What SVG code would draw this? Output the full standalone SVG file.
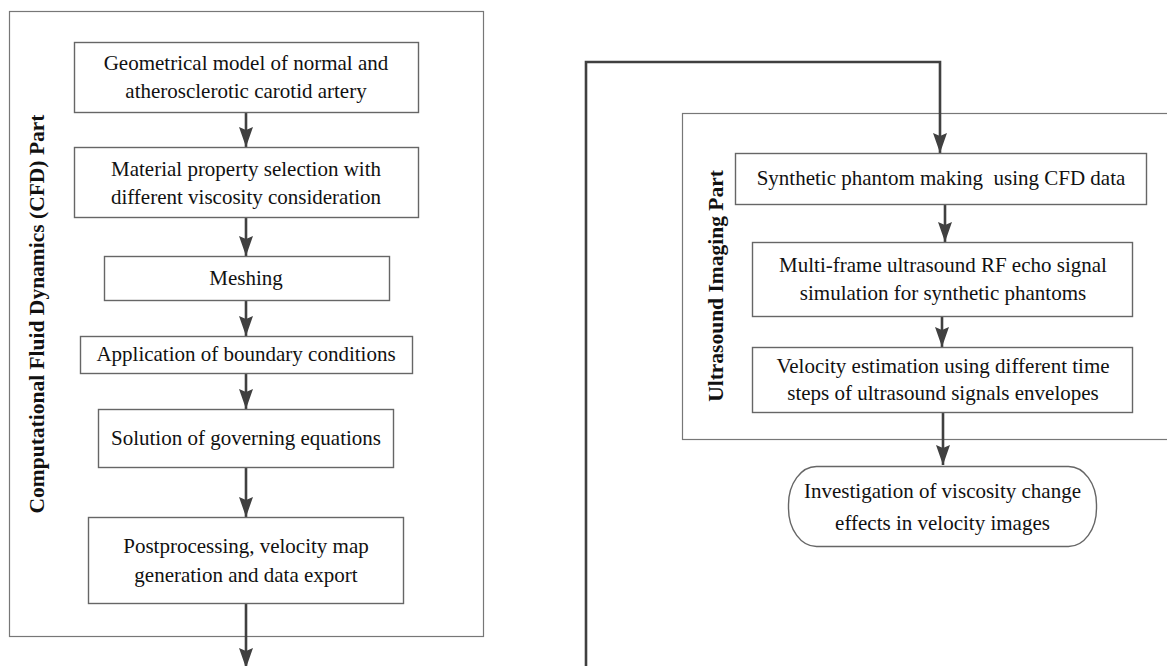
<svg xmlns="http://www.w3.org/2000/svg" width="1167" height="666" viewBox="0 0 1167 666">
<defs>
<marker id="ah" viewBox="0 0 20 14" refX="20" refY="7" markerWidth="20" markerHeight="14" markerUnits="userSpaceOnUse" orient="auto">
<path d="M0,0 L20,7 L0,14 L3,7 z" fill="#404040"/>
</marker>
<style>
.bg{fill:#ffffff}
.outer{fill:none;stroke:#777777;stroke-width:1.2}
.box{fill:#ffffff;stroke:#666666;stroke-width:1.4}
.t{font-family:"Liberation Serif","Times New Roman",serif;font-size:21px;fill:#111111;text-anchor:middle}
.lab{font-family:"Liberation Serif","Times New Roman",serif;font-size:21.5px;font-weight:bold;fill:#111111;text-anchor:middle}
.c{fill:none;stroke:#404040;stroke-width:2.6}
.ca{fill:none;stroke:#404040;stroke-width:2.6;marker-end:url(#ah)}
</style>
</defs>
<rect class="bg" x="0" y="0" width="1167" height="666"/>

<g id="cfd-part">
<rect class="outer" x="9.5" y="11.5" width="474" height="625"/>
<text class="lab" transform="translate(44,314) rotate(-90)" font-size="22">Computational Fluid Dynamics (CFD) Part</text>
</g>

<g id="us-part">
<rect class="outer" x="682.5" y="113.5" width="500" height="326"/>
<text class="lab" transform="translate(723,286) rotate(-90)">Ultrasound Imaging Part</text>
</g>

<g id="connectors">
<line class="ca" x1="246" y1="112" x2="246" y2="147"/>
<line class="ca" x1="246" y1="217" x2="246" y2="256"/>
<line class="ca" x1="246" y1="300" x2="246" y2="336"/>
<line class="ca" x1="246" y1="373" x2="246" y2="409"/>
<line class="ca" x1="246" y1="467" x2="246" y2="517"/>
<line class="ca" x1="246" y1="603" x2="246" y2="668"/>
<polyline class="ca" points="586,666 586,62 940,62 940,153"/>
<line class="ca" x1="945" y1="204" x2="945" y2="242"/>
<line class="ca" x1="942" y1="316" x2="942" y2="347"/>
<line class="ca" x1="943" y1="412" x2="943" y2="465"/>
</g>

<g id="n1">
<rect class="box" x="74.5" y="42.5" width="344" height="70"/>
<text class="t" x="246" y="70">Geometrical model of normal and</text>
<text class="t" x="246" y="98">atherosclerotic carotid artery</text>
</g>
<g id="n2">
<rect class="box" x="74.5" y="147.5" width="344" height="70"/>
<text class="t" x="246" y="176">Material property selection with</text>
<text class="t" x="246" y="204">different viscosity consideration</text>
</g>
<g id="n3">
<rect class="box" x="104.5" y="256.5" width="285" height="44"/>
<text class="t" x="246" y="285">Meshing</text>
</g>
<g id="n4">
<rect class="box" x="80.5" y="336.5" width="332" height="37"/>
<text class="t" x="246" y="361">Application of boundary conditions</text>
</g>
<g id="n5">
<rect class="box" x="98.5" y="409.5" width="295" height="58"/>
<text class="t" x="246" y="445">Solution of governing equations</text>
</g>
<g id="n6">
<rect class="box" x="88.5" y="517.5" width="315" height="86"/>
<text class="t" x="246" y="553">Postprocessing, velocity map</text>
<text class="t" x="246" y="582">generation and data export</text>
</g>

<g id="n7">
<rect class="box" x="735.5" y="153.5" width="411" height="51"/>
<text class="t" x="941" y="185" xml:space="preserve">Synthetic phantom making  using CFD data</text>
</g>
<g id="n8">
<rect class="box" x="752.5" y="242.5" width="380" height="74"/>
<text class="t" x="943" y="272">Multi-frame ultrasound RF echo signal</text>
<text class="t" x="943" y="300">simulation for synthetic phantoms</text>
</g>
<g id="n9">
<rect class="box" x="752.5" y="347.5" width="380" height="65"/>
<text class="t" x="943" y="373">Velocity estimation using different time</text>
<text class="t" x="943" y="400">steps of ultrasound signals envelopes</text>
</g>
<g id="n10">
<rect class="box" x="788.5" y="466.5" width="308" height="80" rx="28" ry="38"/>
<text class="t" x="942.5" y="498">Investigation of viscosity change</text>
<text class="t" x="942.5" y="530">effects in velocity images</text>
</g>
</svg>
